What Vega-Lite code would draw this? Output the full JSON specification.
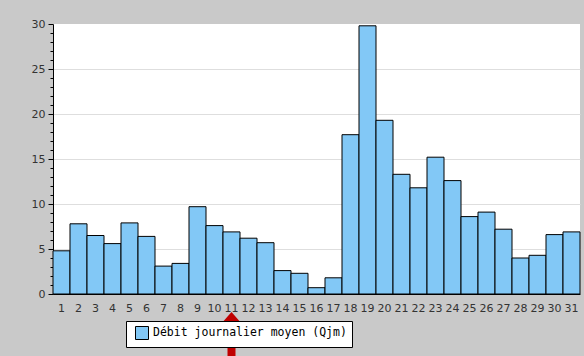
{
  "$schema": "https://vega.github.io/schema/vega-lite/v6.json",
  "width": 527,
  "height": 270,
  "autosize": {"type": "none"},
  "padding": {"left": 53, "top": 24, "right": 4, "bottom": 62},
  "background": "#c9c9c9",
  "config": {"view": {"fill": "white", "stroke": null}},
  "encoding": {
    "x": {
      "field": "jour",
      "type": "ordinal",
      "scale": {"paddingInner": 0, "paddingOuter": 0},
      "axis": {
        "title": null,
        "labelAngle": 0,
        "ticks": false,
        "labelPadding": 8,
        "labelOverlap": false,
        "domainColor": "black",
        "labelColor": "#333333",
        "labelFont": "DejaVu Sans",
        "labelFontSize": 11
      }
    },
    "y": {
      "field": "debit",
      "type": "quantitative",
      "scale": {"domain": [0, 30], "nice": false},
      "axis": {
        "title": null,
        "values": [0,1,2,3,4,5,6,7,8,9,10,11,12,13,14,15,16,17,18,19,20,21,22,23,24,25,26,27,28,29,30],
        "labelOverlap": false,
        "labelExpr": "datum.value % 5 === 0 ? datum.label : ''",
        "tickSize": {"condition": {"test": "datum.value % 5 === 0", "value": 5}, "value": 3},
        "tickColor": "black",
        "domainColor": "black",
        "grid": true,
        "gridColor": "#dedede",
        "gridOpacity": {"condition": {"test": "datum.value % 5 === 0 && datum.value > 0 && datum.value < 30", "value": 1}, "value": 0},
        "labelColor": "#333333",
        "labelFont": "DejaVu Sans",
        "labelFontSize": 11,
        "labelPadding": 3
      }
    }
  },
  "layer": [
    {
      "data": {
        "values": [
          {"jour": 1, "debit": 4.8, "serie": "Débit journalier moyen (Qjm)"},
          {"jour": 2, "debit": 7.8, "serie": "Débit journalier moyen (Qjm)"},
          {"jour": 3, "debit": 6.5, "serie": "Débit journalier moyen (Qjm)"},
          {"jour": 4, "debit": 5.6, "serie": "Débit journalier moyen (Qjm)"},
          {"jour": 5, "debit": 7.9, "serie": "Débit journalier moyen (Qjm)"},
          {"jour": 6, "debit": 6.4, "serie": "Débit journalier moyen (Qjm)"},
          {"jour": 7, "debit": 3.1, "serie": "Débit journalier moyen (Qjm)"},
          {"jour": 8, "debit": 3.4, "serie": "Débit journalier moyen (Qjm)"},
          {"jour": 9, "debit": 9.7, "serie": "Débit journalier moyen (Qjm)"},
          {"jour": 10, "debit": 7.6, "serie": "Débit journalier moyen (Qjm)"},
          {"jour": 11, "debit": 6.9, "serie": "Débit journalier moyen (Qjm)"},
          {"jour": 12, "debit": 6.2, "serie": "Débit journalier moyen (Qjm)"},
          {"jour": 13, "debit": 5.7, "serie": "Débit journalier moyen (Qjm)"},
          {"jour": 14, "debit": 2.6, "serie": "Débit journalier moyen (Qjm)"},
          {"jour": 15, "debit": 2.3, "serie": "Débit journalier moyen (Qjm)"},
          {"jour": 16, "debit": 0.7, "serie": "Débit journalier moyen (Qjm)"},
          {"jour": 17, "debit": 1.8, "serie": "Débit journalier moyen (Qjm)"},
          {"jour": 18, "debit": 17.7, "serie": "Débit journalier moyen (Qjm)"},
          {"jour": 19, "debit": 29.8, "serie": "Débit journalier moyen (Qjm)"},
          {"jour": 20, "debit": 19.3, "serie": "Débit journalier moyen (Qjm)"},
          {"jour": 21, "debit": 13.3, "serie": "Débit journalier moyen (Qjm)"},
          {"jour": 22, "debit": 11.8, "serie": "Débit journalier moyen (Qjm)"},
          {"jour": 23, "debit": 15.2, "serie": "Débit journalier moyen (Qjm)"},
          {"jour": 24, "debit": 12.6, "serie": "Débit journalier moyen (Qjm)"},
          {"jour": 25, "debit": 8.6, "serie": "Débit journalier moyen (Qjm)"},
          {"jour": 26, "debit": 9.1, "serie": "Débit journalier moyen (Qjm)"},
          {"jour": 27, "debit": 7.2, "serie": "Débit journalier moyen (Qjm)"},
          {"jour": 28, "debit": 4.0, "serie": "Débit journalier moyen (Qjm)"},
          {"jour": 29, "debit": 4.3, "serie": "Débit journalier moyen (Qjm)"},
          {"jour": 30, "debit": 6.6, "serie": "Débit journalier moyen (Qjm)"},
          {"jour": 31, "debit": 6.9, "serie": "Débit journalier moyen (Qjm)"}
        ]
      },
      "mark": {"type": "bar", "stroke": "black", "strokeWidth": 1},
      "encoding": {
        "color": {
          "field": "serie",
          "type": "nominal",
          "scale": {"range": ["#82c8f6"]},
          "legend": {
            "orient": "none",
            "legendX": 73,
            "legendY": 297,
            "title": null,
            "fillColor": "white",
            "strokeColor": "black",
            "padding": 5,
            "symbolType": "square",
            "symbolSize": 169,
            "symbolStrokeColor": "black",
            "symbolStrokeWidth": 1,
            "symbolOffset": 4,
            "labelFont": "DejaVu Sans Mono",
            "labelFontSize": 11.5,
            "labelColor": "black",
            "labelLimit": 400,
            "zindex": 0
          }
        }
      }
    },
    {
      "data": {"values": [{"jour": 11, "debit": -3.6, "debit2": -8}]},
      "mark": {"type": "rule", "color": "#c00000", "strokeWidth": 8, "zindex": 1},
      "encoding": {
        "y2": {"field": "debit2"}
      }
    },
    {
      "data": {"values": [{"jour": 11, "debit": -2.9}]},
      "mark": {"type": "point", "shape": "M0,-0.57L1,0.57L-1,0.57Z", "filled": true, "color": "#c00000", "opacity": 1, "size": 784, "zindex": 1},
      "encoding": {}
    }
  ]
}
